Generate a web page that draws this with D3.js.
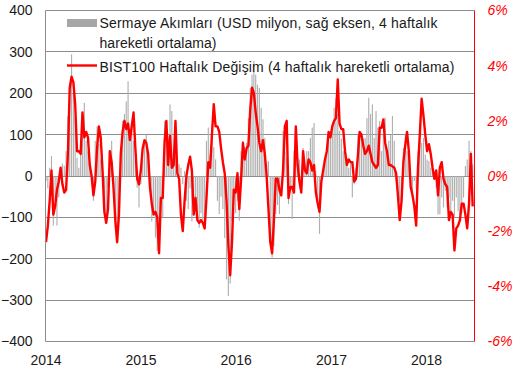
<!DOCTYPE html>
<html>
<head>
<meta charset="utf-8">
<script src="https://d3js.org/d3.v7.min.js"></script>
<style>
  body { margin: 0; background: #fff; }
  svg { display: block; font-family: "Liberation Sans", Arial, sans-serif; }
</style>
</head>
<body>
<div id="chart"></div>
<script>
// weekly data, first week ending 3 Jan 2014
var firstWeek = '2014-01-03';

// Sermaye akimlari, USD mn (4 week moving average)
var flows = [
  -12, -30, 20, 48, -120, -60, -120, -52, 10, 30,
  25, 60, 145, 180, 294, 197, 141, 44, 20, 90,
  125, 177, 85, 60, 30, -20, -60, 85, 120, 77,
  40, 10, -60, -92, -28, 60, 85, -40, -125, -149,
  -90, 60, 133, 150, 180, 229, 115, 120, 85, 40,
  -28, -76, -20, 40, 85, 100, 60, -30, -110, -90,
  -149, -181, -120, -60, -100, 133, 92, 60, 173, 157,
  50, 85, 10, 28, 20, -20, 12, -60, -80, -30,
  -110, -90, -76, -100, -125, -90, -110, -125, 85, 117,
  52, 100, 70, 40, -60, -92, -50, -80, -150, -250,
  -290, -260, -108, -53, -90, -60, -108, 60, 85, 70,
  80, 140, 213, 245, 278, 245, 221, 213, 165, 137,
  92, 32, 36, -150, -197, -170, -92, -70, -92, -30,
  109, 60, 44, -68, -36, -104, 60, 45, 30, 40,
  -36, 68, 30, 60, 60, 92, 117, 128, 12, -76,
  -140, -28, 4, 30, 60, 85, 109, 125, 165, 188,
  150, 109, 90, 60, 60, 40, 20, 30, -52, -20,
  20, 100, 80, 92, 90, 92, 140, 189, 150, 173,
  92, 157, 117, 133, 60, 100, 141, 60, 85, 100,
  145, 85, -12, -44, -60, -50, 68, 100, 60, 36,
  -20, -44, -12, -30, 60, 85, 80, 92, 52, 40,
  36, 20, 28, 10, -28, -93, -93, -52, -76, -36,
  -76, -52, -85, -60, -100, -52, -85, -93, -90, -52,
  24, 40, 85, 60, 28
];

// BIST100 haftalik degisim, % (4 week moving average)
var bist = [
  -2.4, -1.8, -0.9, 0.2, -1.4, -1.1, -0.5, -0.2, 0.3, -0.3,
  -0.6, -0.5, 0.8, 3.2, 3.6, 3.4, 2.6, 0.9, 0.9, 0.8,
  2.3, 1.4, 1.6, 1.4, 0.4, 0, -0.7, -0.2, 1.0, 1.8,
  1.4, 0.2, -1.3, -1.7, -1.2, 0.9, 0.5, -0.4, -1.6, -2.4,
  -1.4, 0.8, 1.6, 2.0, 1.7, 1.9, 1.3, 1.8, 2.3, 1.0,
  -0.1, -0.3, 0.2, 1.0, 1.3, 1.2, 0.8, -0.4, -1.0, -1.4,
  -1.3, -1.5, -2.8, -0.8, -0.8, 1.2, 2.0, 0.4, 1.45, 0.3,
  0.4, 2.0, 0.1, -0.1, -1.4, -2.0, -0.9, 0, 0.4, 0.7,
  0.2, -1.4, -0.8, -1.6, -1.7, -1.6, -1.7, -1.9, -0.8, 0.5,
  0.3, 1.5, 2.6, 1.8, 1.8, 1.6, 1.0, 0.5, 0.1, -0.9,
  -2.5, -3.6, -2.4, -0.5, -0.6, 0.1, -1.2, -0.1, 1.2, 0.6,
  1.0, 1.1, 2.4, 3.2, 3.0, 2.3, 1.8, 1.2, 0.9, 1.3,
  0.8, 0, -1.2, -2.4, -2.8, -1.6, -0.1, -0.1, -0.5, -0.7,
  0.2, 1.8, 2.0, -0.8, -0.4, -0.4, -0.6, 1.8, 0.4, -0.2,
  -0.6, 0.9, 0.2, 0.1, 0.6, 0.5, 0.2, 0.4, -0.6, -1.0,
  -1.3, -0.2, 0.2, 0.6, 0.9, 1.6, 1.4, 1.8, 2.0, 2.1,
  3.5, 1.9, 1.7, 1.7, 0.9, 0.4, 0.6, 0.5, 0.5, -0.2,
  -0.1, 0.7, 1.6, 1.5, 1.1, 0.8, 0.9, 1.1, 0.8, 0.5,
  0.4, 0.3, 0.4, 1.75, 1.75, 2.05, 1.2, 0.9, 0.4, 0.4,
  0.35, 0.3, 0.1, -0.7, -1.6, -0.9, 0.5, 1.1, 1.6, 0.9,
  -0.4, -0.7, -1.1, -1.8, 0.3, 1.5, 2.8, 2.2, 1.5, 0.9,
  1.15, 0.8, 0.3, -0.1, 0.2, -0.7, 0.3, 0.5, -0.1, -0.3,
  -0.4, -1.6, -1.3, -1.4, -2.7, -1.9, -1.8, -1.6, -1.0, -1.0,
  -1.4, -1.9, -1.0, 0.8, -1.1
];

var leftTicks = [-400, -300, -200, -100, 0, 100, 200, 300, 400];
var rightTicks = [-6, -4, -2, 0, 2, 4, 6];
var years = [2014, 2015, 2016, 2017, 2018];

var legendFlows = ['Sermaye Akımları (USD milyon, sağ eksen, 4 haftalık', 'hareketli ortalama)'];
var legendBist = 'BIST100 Haftalık Değişim (4 haftalık hareketli ortalama)';

function drawChart(div) {
  var w = 519;
  var h = 372;
  var pLeft = 45.5, pRight = 474.5, pTop = 10.5, pBottom = 341.5;

  var start = d3.timeParse('%Y-%m-%d')(firstWeek);
  var dates = flows.map(function(d, i) {
    return d3.timeDay.offset(start, 7 * i);
  });

  var x = d3.scaleTime()
    .domain([new Date(2014, 0, 1), new Date(2018, 6, 6)])
    .range([pLeft, pRight]);
  var yL = d3.scaleLinear().domain([-400, 400]).range([pBottom, pTop]);
  var yR = d3.scaleLinear().domain([-6, 6]).range([pBottom, pTop]);

  var svg = d3.select(div)
    .append('svg')
    .attr('width', w)
    .attr('height', h);

  // grid
  svg.append('g')
    .selectAll('line')
    .data(leftTicks)
    .enter()
    .append('line')
    .attr('x1', pLeft)
    .attr('x2', pRight)
    .attr('y1', function(d) { return Math.round(yL(d) - 0.5) + 0.5; })
    .attr('y2', function(d) { return Math.round(yL(d) - 0.5) + 0.5; })
    .attr('stroke', '#8c8c8c')
    .attr('stroke-width', 1);

  // bars
  var barW = 1.15;
  svg.append('g')
    .selectAll('rect')
    .data(flows)
    .enter()
    .append('rect')
    .attr('x', function(d, i) { return x(dates[i]) - barW / 2; })
    .attr('y', function(d) { return yL(Math.max(0, d)); })
    .attr('width', barW)
    .attr('height', function(d) { return Math.abs(yL(d) - yL(0)); })
    .attr('fill', '#b0b0b0');

  // line
  var line = d3.line()
    .x(function(d, i) { return x(dates[i]); })
    .y(function(d) { return yR(d); });

  svg.append('path')
    .datum(bist)
    .attr('d', line)
    .attr('fill', 'none')
    .attr('stroke', '#ff0000')
    .attr('stroke-width', 2.4)
    .attr('stroke-linejoin', 'round');

  // axes
  var axL = svg.append('g')
    .attr('transform', 'translate(' + pLeft + ',0)')
    .call(d3.axisLeft(yL).tickValues(leftTicks).tickSize(0).tickPadding(13));
  axL.select('.domain').remove();
  axL.selectAll('text')
    .attr('font-size', '14px')
    .attr('font-family', '"Liberation Sans", Arial, sans-serif')
    .attr('fill', '#1a1a1a');

  var axR = svg.append('g')
    .attr('transform', 'translate(' + pRight + ',0)')
    .call(d3.axisRight(yR).tickValues(rightTicks).tickSize(0).tickPadding(13)
      .tickFormat(function(d) { return (d < 0 ? '-' : '') + Math.abs(d) + '%'; }));
  axR.select('.domain').remove();
  axR.selectAll('text')
    .attr('font-size', '14px')
    .attr('font-style', 'italic')
    .attr('font-family', '"Liberation Sans", Arial, sans-serif')
    .attr('fill', '#ff0000');

  var axB = svg.append('g')
    .attr('transform', 'translate(0,' + pBottom + ')')
    .call(d3.axisBottom(x)
      .tickValues(years.map(function(y) { return new Date(y, 0, 1); }))
      .tickFormat(d3.timeFormat('%Y'))
      .tickSize(0).tickPadding(14));
  axB.select('.domain').remove();
  axB.selectAll('text')
    .attr('font-size', '14px')
    .attr('font-family', '"Liberation Sans", Arial, sans-serif')
    .attr('fill', '#1a1a1a');

  svg.append('line')
    .attr('x1', pLeft).attr('x2', pLeft)
    .attr('y1', pTop).attr('y2', pBottom)
    .attr('stroke', '#8c8c8c');
  svg.append('line')
    .attr('x1', pRight).attr('x2', pRight)
    .attr('y1', pTop).attr('y2', pBottom)
    .attr('stroke', '#ff0000');

  // legend (Excel spaces its text a little wider)
  var flowWidths = [338, 117];
  var lg = svg.append('g');
  lg.append('rect')
    .attr('x', 67).attr('y', 19)
    .attr('width', 30).attr('height', 8)
    .attr('fill', '#a6a6a6');
  lg.selectAll('text.flows')
    .data(legendFlows)
    .enter()
    .append('text')
    .attr('class', 'flows')
    .attr('x', 99.5)
    .attr('y', function(d, i) { return 28 + i * 19.5; })
    .attr('font-size', '14px')
    .attr('fill', '#1a1a1a')
    .attr('textLength', function(d, i) { return flowWidths[i]; })
    .attr('lengthAdjust', 'spacing')
    .text(function(d) { return d; });
  lg.append('line')
    .attr('x1', 67).attr('x2', 97)
    .attr('y1', 65.5).attr('y2', 65.5)
    .attr('stroke', '#ff0000')
    .attr('stroke-width', 2.4);
  lg.append('text')
    .attr('x', 99.5)
    .attr('y', 71.5)
    .attr('font-size', '14px')
    .attr('fill', '#1a1a1a')
    .attr('textLength', 355)
    .attr('lengthAdjust', 'spacing')
    .text(legendBist);
}

drawChart('#chart');
</script>
</body>
</html>
